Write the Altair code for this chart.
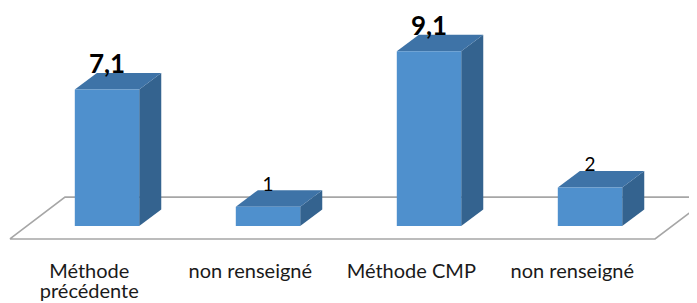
import altair as alt
import pandas as pd

# ---- data ----
categories = ["Méthode\nprécédente", "non renseigné", "Méthode CMP", "non renseigné"]
values = [7.1, 1, 9.1, 2]
value_labels = ["7,1", "1", "9,1", "2"]
emphasis = [True, False, True, False]

# ---- geometry (in data units) ----
HALF = 0.2      # half bar width (category units)
DX = 0.137      # depth offset along x
DY = 0.86       # depth offset along y
LABEL_SHIFT = -0.11

FRONT_C = "#4F90CD"
TOP_C = "#3E73A7"
SIDE_C = "#34638F"

W, H = 681, 295
PX_PER_X = 161.0
PX_PER_Y = 19.197
ZERO_PX = 217.9
x_lo = -99 / PX_PER_X
y_lo = -(H - ZERO_PX) / PX_PER_Y
CAT_Y = (ZERO_PX - 270) / PX_PER_Y

rows = []
side_rows = []
top_rows = []
for i, (c, v, lab, em) in enumerate(zip(categories, values, value_labels, emphasis)):
    key = f"b{i}"
    rows.append(dict(key=key, cat=c, v=v, lab=lab, em=em, xc=i, x0=i - HALF, x1=i + HALF,
                     base=0.0, ly=v + DY - 0.02, catx=i + LABEL_SHIFT, caty=CAT_Y))
    side_rows.append(dict(key=key, sx=i + HALF, lo=0.0, hi=v))
    side_rows.append(dict(key=key, sx=i + HALF + DX, lo=DY, hi=v + DY))
    top_rows.append(dict(key=key, ty=v, xa=i - HALF, xb=i + HALF))
    top_rows.append(dict(key=key, ty=v + DY, xa=i - HALF + DX, xb=i + HALF + DX))

bars = pd.DataFrame(rows)
side = pd.DataFrame(side_rows)
top = pd.DataFrame(top_rows)

# floor frame
FL_FRONT_Y, FL_BACK_Y = -0.68, 1.5
FL_LEFT, FL_RIGHT, FL_SKEW = -0.603, 3.404, 0.342
floor = pd.DataFrame(dict(
    fx=[FL_LEFT, FL_RIGHT, FL_RIGHT + FL_SKEW, FL_LEFT + FL_SKEW, FL_LEFT],
    fy=[FL_FRONT_Y, FL_FRONT_Y, FL_BACK_Y, FL_BACK_Y, FL_FRONT_Y],
    o=[0, 1, 2, 3, 4],
))

xs = alt.Scale(domain=[x_lo, x_lo + W / PX_PER_X], nice=False, zero=False)
ys = alt.Scale(domain=[y_lo, y_lo + H / PX_PER_Y], nice=False, zero=False)

floor_layer = alt.Chart(floor).mark_line(color="#A6A6A6", strokeWidth=1.6).encode(
    x=alt.X("fx:Q", scale=xs, axis=None),
    y=alt.Y("fy:Q", scale=ys, axis=None),
    order="o:Q",
)

side_layer = alt.Chart(side).mark_area(color=SIDE_C, opacity=1).encode(
    x=alt.X("sx:Q", scale=xs, axis=None),
    y=alt.Y("lo:Q", scale=ys, axis=None),
    y2="hi:Q",
    detail="key:N",
)

top_layer = alt.Chart(top).mark_area(color=TOP_C, orient="horizontal", opacity=1).encode(
    y=alt.Y("ty:Q", scale=ys, axis=None),
    x=alt.X("xa:Q", scale=xs, axis=None),
    x2="xb:Q",
    detail="key:N",
)

front_layer = alt.Chart(bars).mark_rect(color=FRONT_C).encode(
    x=alt.X("x0:Q", scale=xs, axis=None),
    x2="x1:Q",
    y=alt.Y("base:Q", scale=ys, axis=None),
    y2="v:Q",
)

big_labels = alt.Chart(bars).transform_filter("datum.em").mark_text(
    font="Lato", fontSize=26, fontWeight="bold", baseline="alphabetic", color="#000000"
).encode(
    x=alt.X("xc:Q", scale=xs, axis=None),
    y=alt.Y("ly:Q", scale=ys, axis=None),
    text="lab:N",
)

small_labels = alt.Chart(bars).transform_filter("!datum.em").mark_text(
    font="Lato", fontSize=19, baseline="alphabetic", color="#000000"
).encode(
    x=alt.X("xc:Q", scale=xs, axis=None),
    y=alt.Y("ly:Q", scale=ys, axis=None),
    text="lab:N",
)

cat_labels = alt.Chart(bars).mark_text(
    font="Lato", fontSize=20, baseline="alphabetic", lineBreak="\n", lineHeight=20,
    color="#1a1a1a", align="center"
).encode(
    x=alt.X("catx:Q", scale=xs, axis=None),
    y=alt.Y("caty:Q", scale=ys, axis=None),
    text="cat:N",
)

chart = alt.layer(
    floor_layer, side_layer, top_layer, front_layer, big_labels, small_labels, cat_labels
).properties(
    width=W, height=H, padding=0,
    autosize=alt.AutoSizeParams(type="none"),
).configure_view(stroke=None)

chart.save("out.html", embed_options={"renderer": "svg", "actions": False})
